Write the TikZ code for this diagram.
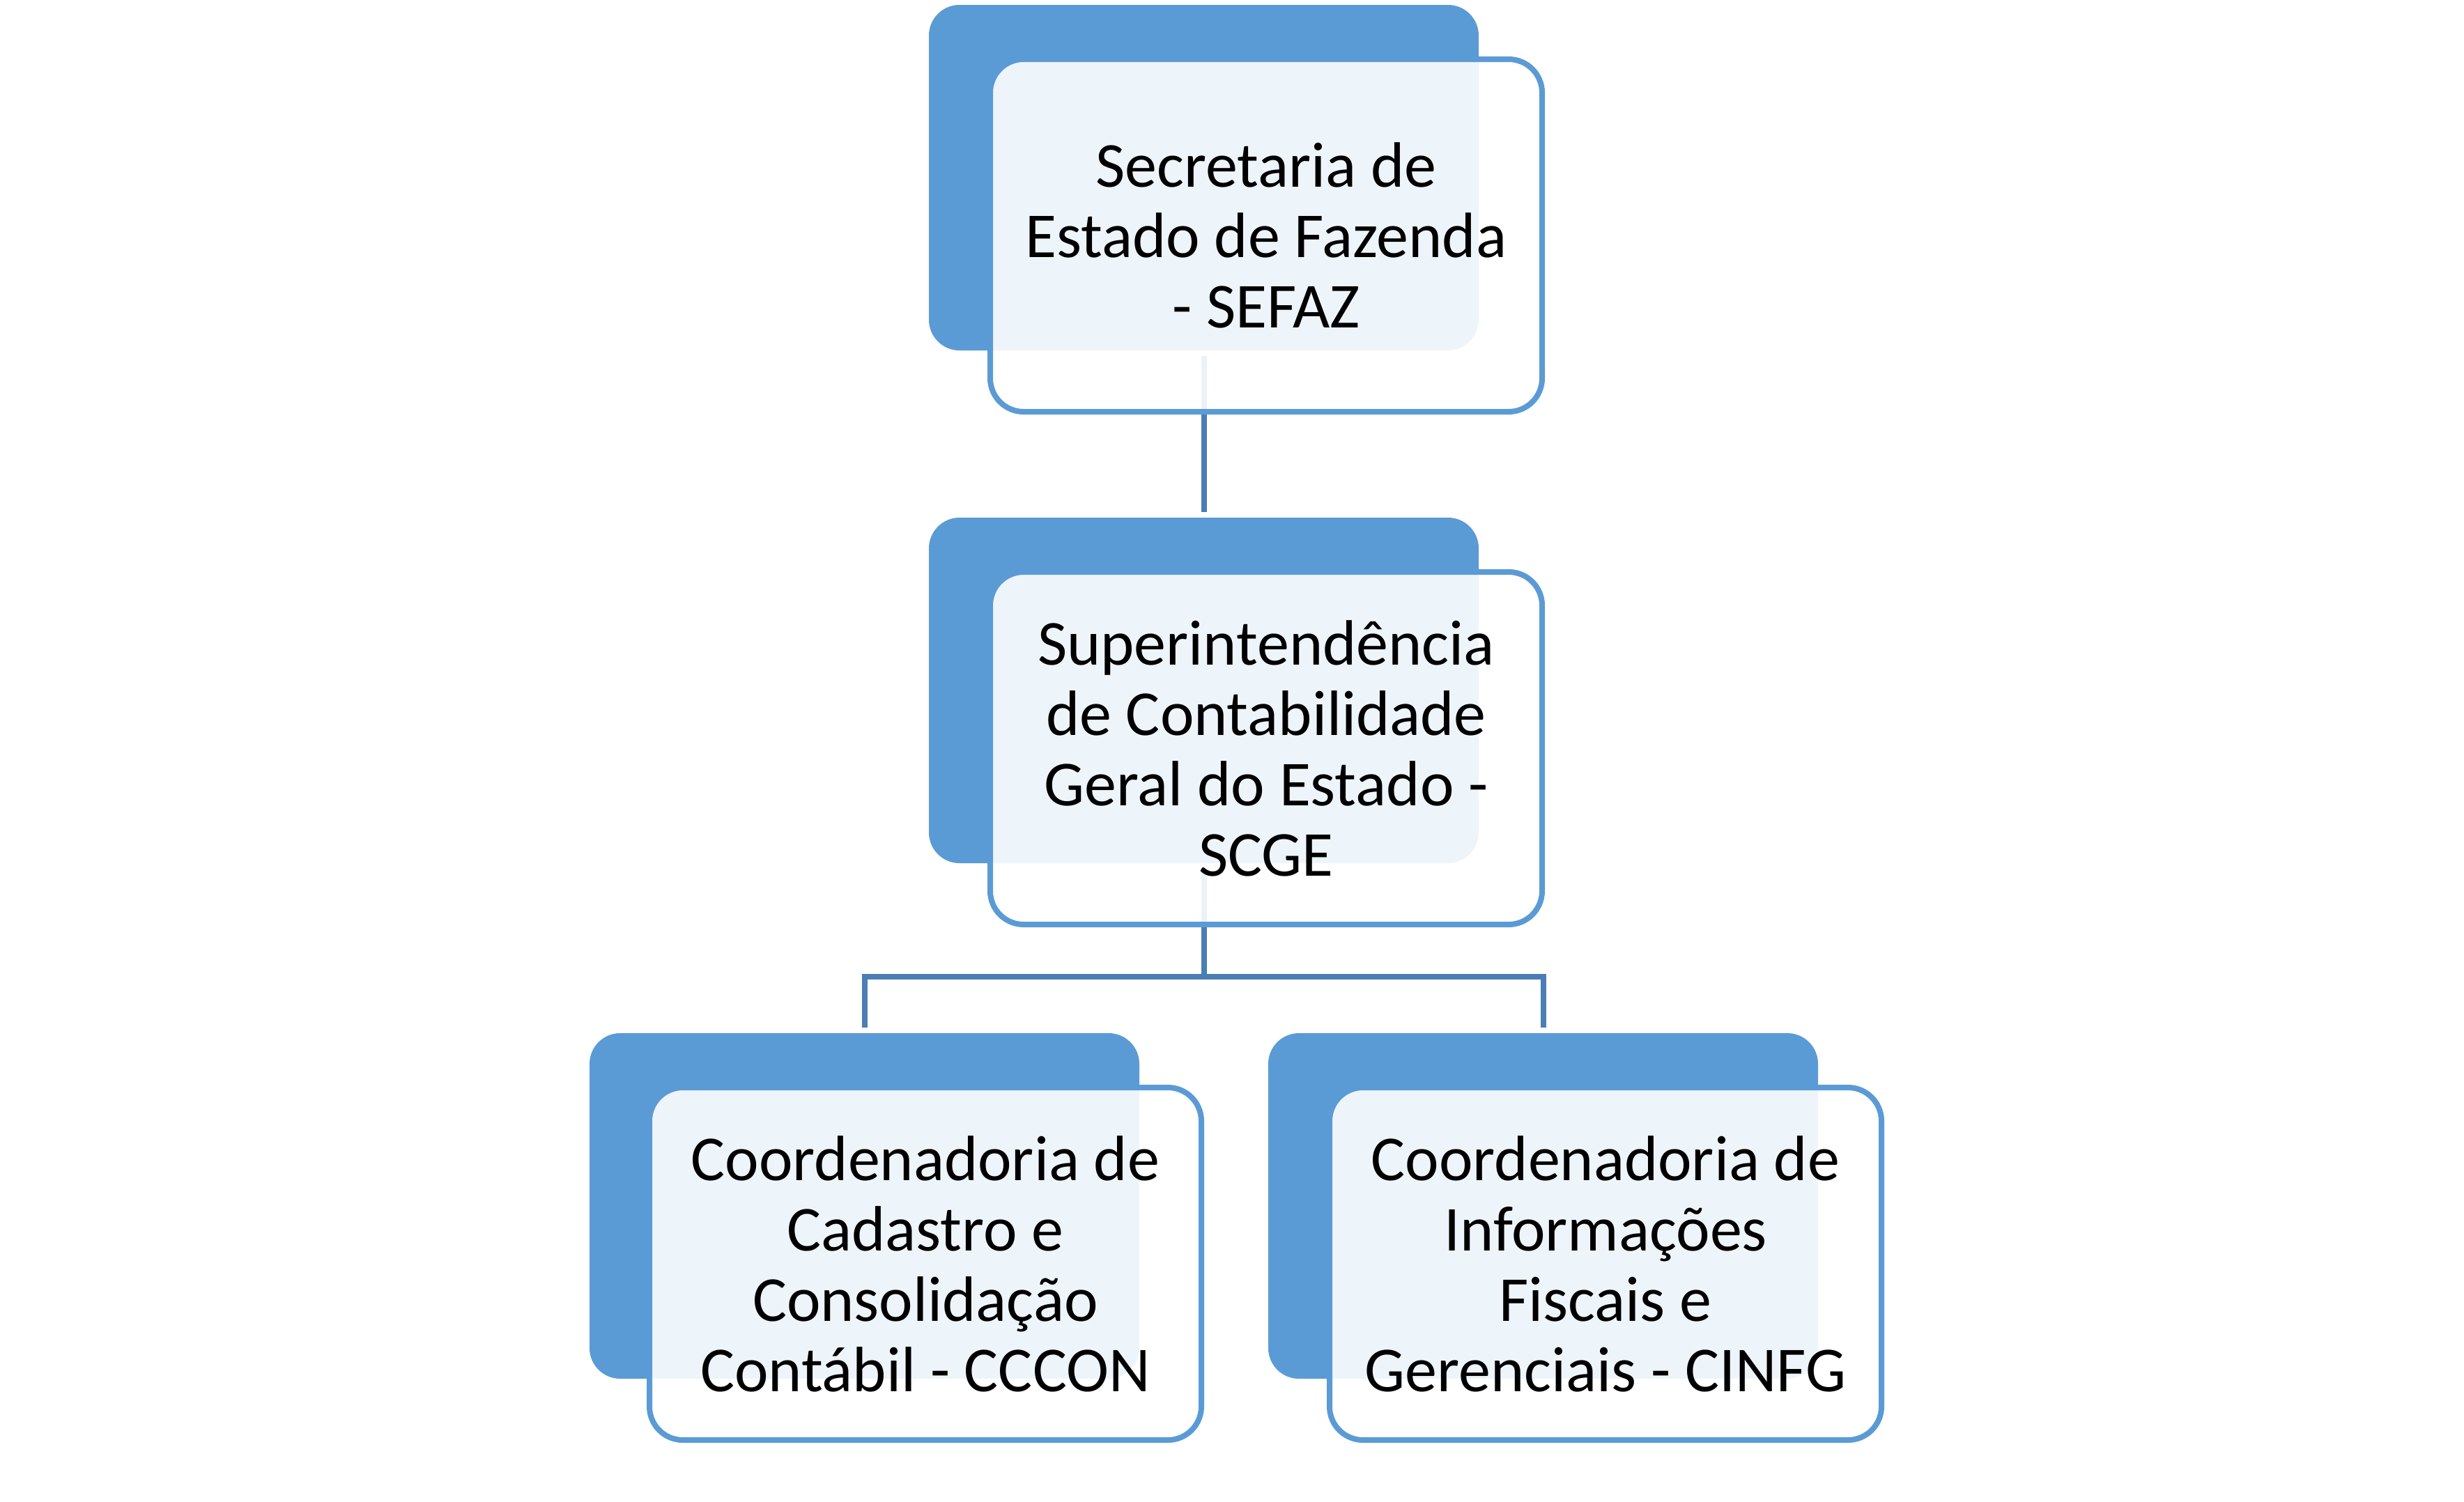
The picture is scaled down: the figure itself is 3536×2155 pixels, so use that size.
\documentclass[tikz,border=0pt]{standalone}
\usepackage{fontspec}
\setmainfont{Carlito}
\definecolor{acc}{HTML}{5B9BD5}
\definecolor{conn}{HTML}{4A7EB4}
\begin{document}
\begin{tikzpicture}[x=0.25pt,y=-0.25pt,
 backbox/.style={fill=acc, rounded corners=11pt, minimum width=197.25pt, minimum height=124pt, anchor=north west, inner sep=0pt, outer sep=0pt},
 frontbox/.style={draw=acc, line width=2pt, fill=white, fill opacity=0.9, text opacity=1, rounded corners=12pt, minimum width=198pt, minimum height=126.5pt, anchor=north west, inner sep=0pt, outer sep=0pt, align=center, font=\fontsize{23}{25.25}\selectfont},
 link/.style={draw=conn, line width=2pt, shorten <=2pt, shorten >=2pt}]
\fill[white] (0,0) rectangle (3536,2155);
\useasboundingbox (0,0) rectangle (3536,2155);
\node[backbox] (b1) at (1333,7) {};
\node[backbox] (b2) at (1333,743) {};
\node[backbox] (b3) at (846,1483) {};
\node[backbox] (b4) at (1820,1483) {};
\path (b2.south) ++(0,163) coordinate (bus);
\draw[link] (b1.south) -- (b2.north);
\draw[link, shorten >=0pt] (b2.south) -- (bus);
\draw[link] (b3.north) |- (bus) -| (b4.north);
\node[frontbox] (f1) at (1421,85) {Secretaria de\\Estado de Fazenda\\- SEFAZ};
\node[frontbox] (f2) at (1421,821) {Superintendência\\de Contabilidade\\Geral do Estado -\\SCGE};
\node[frontbox] (f3) at (932,1561) {Coordenadoria de\\Cadastro e\\Consolidação\\Contábil - CCCON};
\node[frontbox] (f4) at (1908,1561) {Coordenadoria de\\Informações\\Fiscais e\\Gerenciais - CINFG};
\end{tikzpicture}
\end{document}
